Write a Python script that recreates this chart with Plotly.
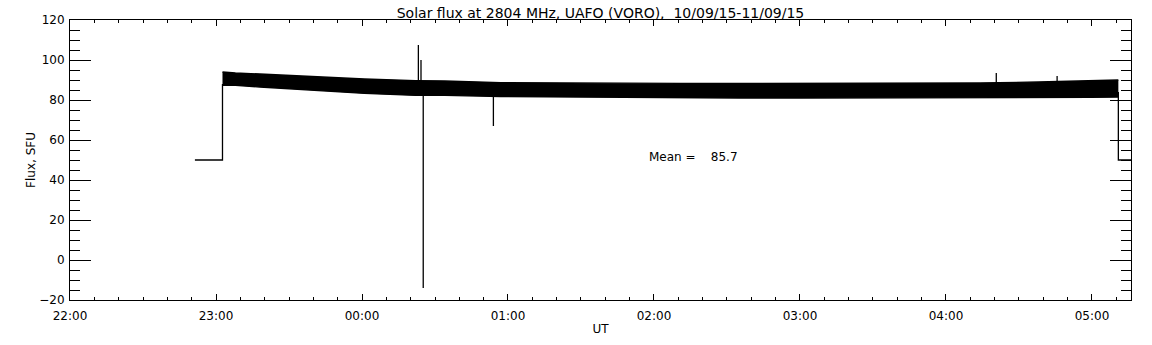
import plotly.graph_objects as go

# --- data ---
band_times = ["2015-09-10 23:02:40", "2015-09-10 23:08:00", "2015-09-10 23:18:00",
              "2015-09-10 23:27:00", "2015-09-10 23:41:00", "2015-09-11 00:01:00",
              "2015-09-11 00:22:00", "2015-09-11 00:34:00", "2015-09-11 00:57:00",
              "2015-09-11 01:22:00", "2015-09-11 01:46:00", "2015-09-11 02:11:00",
              "2015-09-11 02:35:00", "2015-09-11 03:00:00", "2015-09-11 03:25:00",
              "2015-09-11 03:49:00", "2015-09-11 04:14:00", "2015-09-11 04:38:00",
              "2015-09-11 04:59:00", "2015-09-11 05:10:50"]
band_upper = [94.0, 93.5, 93.0, 92.5, 91.5, 90.5, 89.7, 89.5, 88.7, 88.5, 88.5, 88.3,
              88.3, 88.3, 88.3, 88.3, 88.5, 89.0, 89.5, 90.0]
band_lower = [87.3, 87.3, 86.5, 85.8, 84.5, 83.3, 82.3, 82.3, 81.7, 81.5, 81.3, 81.0,
              81.0, 81.0, 81.0, 81.0, 81.0, 81.0, 81.3, 81.5]

lead_times = ["2015-09-10 22:51:20", "2015-09-10 23:02:40", "2015-09-10 23:02:40"]
lead_values = [50, 50, 88]
tail_times = ["2015-09-11 05:10:50", "2015-09-11 05:10:50", "2015-09-11 05:16:02"]
tail_values = [84, 50, 50]

spike_times = ["2015-09-11 00:23:10", "2015-09-11 00:24:15", "2015-09-11 00:25:10",
               "2015-09-11 00:54:00", "2015-09-11 04:20:40", "2015-09-11 04:45:40"]
spike_base = [89, 89, 82, 82, 88, 89]
spike_peak = [107.5, 100, -14, 67, 93.5, 92]

mean_value = 85.7
title_text = "Solar flux at 2804 MHz, UAFO (VORO),  10/09/15-11/09/15"
x_range = ["2015-09-10 22:00:00", "2015-09-11 05:16:02"]
y_range = [-20, 120]

fig = go.Figure()

# noise band as filled envelope
fig.add_trace(go.Scatter(x=band_times, y=band_lower, mode="lines",
                         line=dict(color="black", width=1.3), showlegend=False,
                         hoverinfo="skip"))
fig.add_trace(go.Scatter(x=band_times, y=band_upper, mode="lines", fill="tonexty",
                         fillcolor="black", line=dict(color="black", width=1.3),
                         showlegend=False, hoverinfo="skip"))

fig.add_trace(go.Scatter(x=lead_times, y=lead_values, mode="lines",
                         line=dict(color="black", width=1.3), showlegend=False))
fig.add_trace(go.Scatter(x=tail_times, y=tail_values, mode="lines",
                         line=dict(color="black", width=1.3), showlegend=False))

sx, sy = [], []
for t, b, p in zip(spike_times, spike_base, spike_peak):
    sx += [t, t, None]
    sy += [b, p, None]
fig.add_trace(go.Scatter(x=sx, y=sy, mode="lines", line=dict(color="black", width=1.3),
                         showlegend=False))

fig.add_annotation(x="2015-09-11 01:57:00", y=51.5, xref="x", yref="y",
                   text=f"Mean =&nbsp;&nbsp;&nbsp;&nbsp;{mean_value}", showarrow=False,
                   xanchor="left", font=dict(size=12, color="black"))

font_family = "DejaVu Sans"
fig.update_layout(
    width=1152, height=345,
    margin=dict(l=70, r=21, t=20, b=45),
    paper_bgcolor="white", plot_bgcolor="white",
    font=dict(family=font_family, size=12, color="black"),
    title=dict(text=title_text, x=0.5, xref="paper", xanchor="center",
               y=0.977, yref="container", yanchor="top",
               font=dict(size=14, color="black")),
    showlegend=False,
)
fig.update_xaxes(
    type="date", range=x_range, tickformat="%H:%M", dtick=3600000,
    tick0="2015-09-10 22:00:00", automargin=False,
    showline=True, linecolor="black", linewidth=1, mirror="ticks",
    ticks="inside", ticklen=6, tickcolor="black", tickwidth=1,
    showgrid=False, zeroline=False,
    minor=dict(dtick=600000, ticks="inside", ticklen=3, tickcolor="black", showgrid=False),
    title=dict(text="UT", standoff=2, font=dict(size=12)),
    ticklabelstandoff=5,
)
fig.update_yaxes(
    range=y_range, dtick=20, tick0=0, automargin=False,
    showline=True, linecolor="black", linewidth=1, mirror="ticks",
    ticks="inside", ticklen=21, tickcolor="black", tickwidth=1,
    showgrid=False, zeroline=False,
    minor=dict(dtick=5, ticks="inside", ticklen=10, tickcolor="black", showgrid=False),
    title=dict(text="Flux, SFU", standoff=1, font=dict(size=12)),
    ticklabelstandoff=2,
)

fig.write_html("out.html", config={"displayModeBar": False},
               post_script="document.body.style.margin='0px';")
